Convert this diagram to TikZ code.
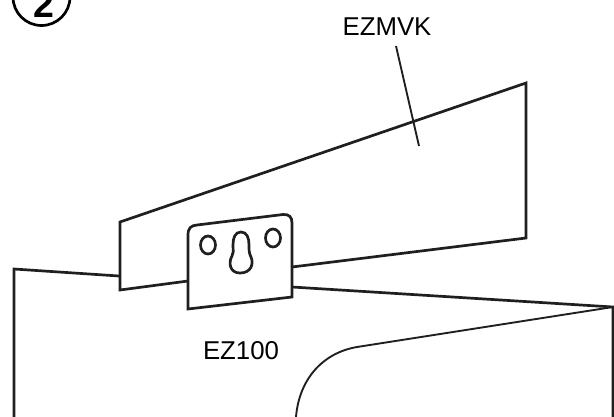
\documentclass[tikz,border=0pt]{standalone}
\usepackage{fontspec}
\setmainfont{Liberation Sans}
\usetikzlibrary{positioning}
\tikzset{
    partline/.style={line width=2.3pt, color=black!88, line join=miter},
    thinline/.style={line width=1.6pt, color=black!88},
    partlabel/.style={font=\fontsize{22}{26}\selectfont, inner sep=0pt}
}
\begin{document}
\begin{tikzpicture}[x=0.03cm, y=-0.03cm]
    \useasboundingbox (0,0) rectangle (614,416);
    \begin{scope}
    \clip (0,0) rectangle (614,416);
    % step number
    \draw[line width=2.3pt] (41.5,-3) circle (28.5);
    \node[font=\bfseries\fontsize{32}{36}\selectfont, inner sep=0pt, anchor=base] (stepnum) at (44,17) {2};
    % EZMVK panel
    \draw[partline] (188,281) -- (120,290) -- (120,222) -- (526,83) -- (526,238) -- (292,267);
    % body
    \draw[partline] (119,276) -- (14,269) -- (14,417);
    \draw[partline] (292,287) -- (613,307) -- (613,417);
    \draw[thinline] (613,307) -- (357,347) .. controls (322,353) and (299,380) .. (296,417);
    \end{scope}
    % EZ100 bracket
    \draw[partline] (188,309) -- (188,235) .. controls (188,228) and (191,225.5) .. (197,225)
        -- (283,214.5) .. controls (289,214) and (292,217) .. (292,223) -- (292,297) -- cycle;
    \draw[partline] (208,245) ellipse (7.5 and 9);
    \draw[partline] (273,238) ellipse (7.5 and 9);
    \draw[partline] (241,232) .. controls (235,232) and (233,238) .. (233,245)
        .. controls (233,251) and (234,253) .. (232,256)
        .. controls (228,263) and (230,273) .. (240,273)
        .. controls (251,273) and (254,264) .. (251,257)
        .. controls (249,253) and (249,251) .. (249,245)
        .. controls (249,238) and (247,232) .. (241,232) -- cycle;
    % labels
    \node[partlabel] (ezmvk) at (387,27) {EZMVK};
    \node[partlabel] (ezbracket) at (241,351) {EZ100};
    \coordinate (leadertop) at (396,46);
    \coordinate (leaderend) at (419,146);
    \draw[thinline] (leadertop) -- (leaderend);
\end{tikzpicture}
\end{document}
